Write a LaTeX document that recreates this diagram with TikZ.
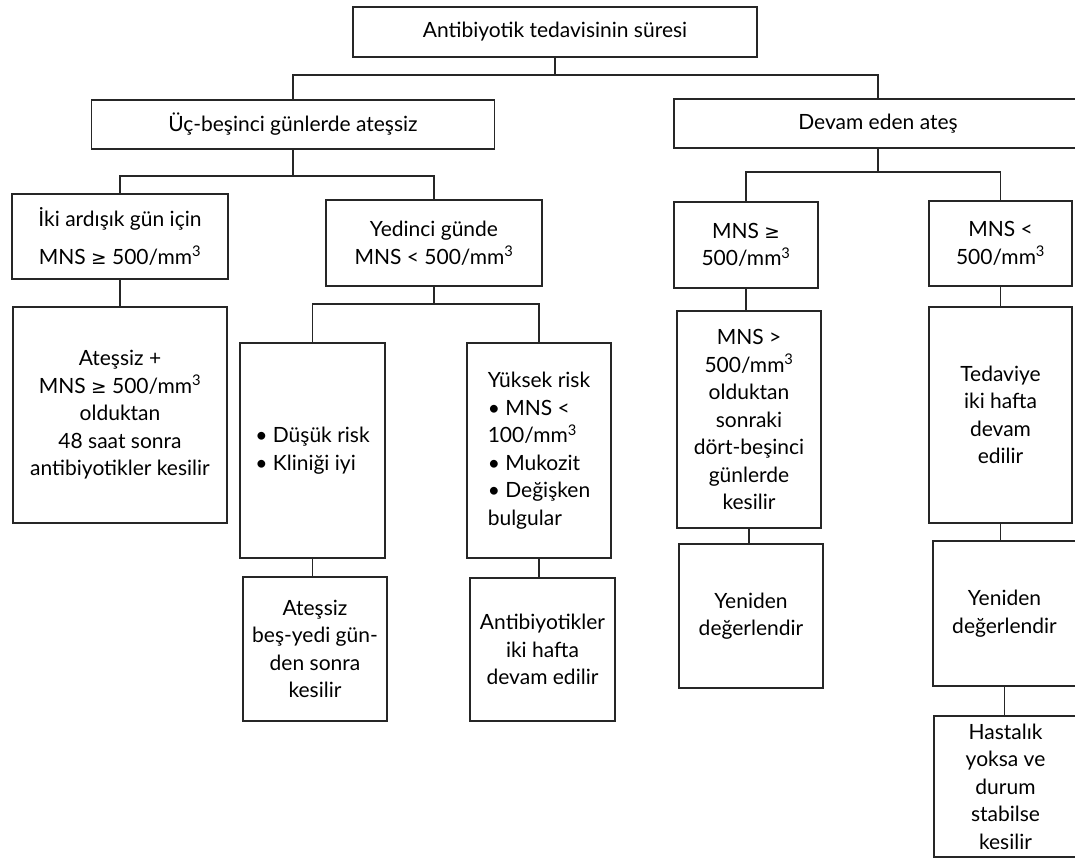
\documentclass[tikz,border=0pt]{standalone}
\usepackage{fontspec}
\setmainfont{Lato}
\newfontfamily\symfont{DejaVu Sans}
\newcommand{\gesym}{{\symfont\fontsize{18.5}{20}\selectfont ≥}}
\newcommand{\cube}{\textsuperscript{3}}
\begin{document}
\begin{tikzpicture}[x=1pt,y=-1pt,
  box/.style={draw=black!85,line width=1.4pt,inner sep=0pt,outer sep=0pt,
    align=center,font=\fontsize{21}{27.5}\selectfont},
  lbox/.style={box,align=left},
  link/.style={draw=black!85,line width=1.4pt}]
\useasboundingbox (0,0) rectangle (1075,859);
\clip (0,0) rectangle (1075,859);
\fill[white] (0,0) rectangle (1075,859);
% level 0
\node[box,minimum width=404,minimum height=50] (root) at (555,32) {Antibiyotik tedavisinin süresi};
% level 1
\node[box,minimum width=403,minimum height=49] (l1a) at (293,124.5) {Üç-beşinci günlerde ateşsiz};
\node[box,minimum width=408,minimum height=49] (l1b) at (878,123.5) {Devam eden ateş};
% level 2
\node[box,minimum width=216,minimum height=85] (a) at (120,236.5) {İki ardışık gün için\\[10pt]MNS \gesym{} 500/mm\cube};
\node[box,minimum width=216,minimum height=86] (b) at (434,243) {Yedinci günde\\MNS < 500/mm\cube};
\node[box,minimum width=144,minimum height=86] (c) at (746,245) {MNS \gesym\\500/mm\cube};
\node[box,minimum width=143,minimum height=85] (d) at (1000.5,243.5) {MNS <\\500/mm\cube};
% level 3
\node[box,minimum width=214,minimum height=216] (e) at (120,415) {Ateşsiz +\\MNS \gesym{} 500/mm\cube\\olduktan\\48 saat sonra\\antibiyotikler kesilir};
\node[lbox,minimum width=145,minimum height=215] (f) at (312.5,450.5) {• Düşük risk\\• Kliniği iyi};
\node[lbox,minimum width=144,minimum height=215] (g) at (539,450.5) {Yüksek risk\\• MNS <\\100/mm\cube\\• Mukozit\\• Değişken\\bulgular};
\node[box,minimum width=144,minimum height=217] (j) at (749,419.5) {MNS >\\500/mm\cube\\olduktan\\sonraki\\dört-beşinci\\günlerde\\kesilir};
\node[box,minimum width=143,minimum height=216] (l) at (1000.5,415) {Tedaviye\\iki hafta\\devam\\edilir};
% level 4
\node[box,minimum width=144,minimum height=144] (h) at (315,649) {Ateşsiz\\beş-yedi gün-\\den sonra\\kesilir};
\node[box,minimum width=145,minimum height=143] (i) at (542.5,649.5) {Antibiyotikler\\iki hafta\\devam edilir};
\node[box,minimum width=144,minimum height=144] (k) at (751,616) {Yeniden\\değerlendir};
\node[box,minimum width=143,minimum height=145] (m) at (1004.5,613.5) {Yeniden\\değerlendir};
% level 5
\node[box,minimum width=143,minimum height=141] (n) at (1005.5,786.5) {Hastalık\\yoksa ve\\durum\\stabilse\\kesilir};
% connectors
\draw[link] (root.south) -- ++(0,18) coordinate (r0);
\draw[link] (r0) -| (l1a.north);
\draw[link] (r0) -| (l1b.north);
\draw[link] (l1a.south) -- ++(0,27) coordinate (r1);
\draw[link] (r1) -| (a.north);
\draw[link] (r1) -| (b.north);
\draw[link] (l1b.south) -- ++(0,24) coordinate (r2);
\draw[link] (r2) -| (c.north);
\draw[link] (r2) -| (d.north);
\draw[link] (b.south) -- ++(0,18) coordinate (r3);
\draw[link] (r3) -| (f.north);
\draw[link] (r3) -| (g.north);
\draw[link] (a.south) -- (a.south |- e.north);
\draw[link] (f.south) -- (f.south |- h.north);
\draw[link] (g.south) -- (g.south |- i.north);
\draw[link] (c.south) -- (c.south |- j.north);
\draw[link] (j.south) -- (j.south |- k.north);
\draw[link] (d.south) -- (d.south |- l.north);
\draw[link] (l.south) -- (l.south |- m.north);
\draw[link] (m.south) -- (m.south |- n.north);
\end{tikzpicture}
\end{document}
